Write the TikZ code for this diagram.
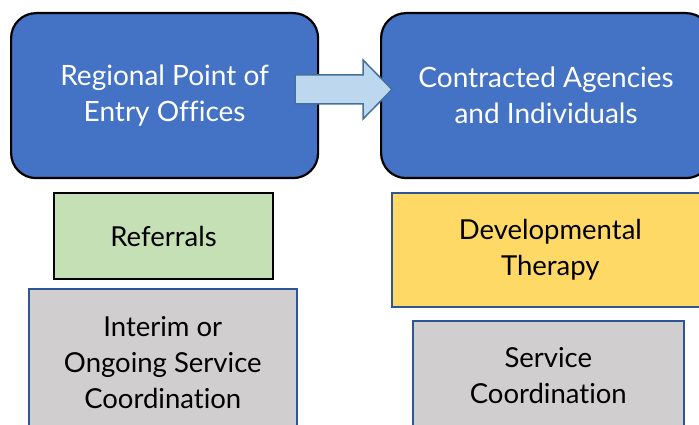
\documentclass[tikz,border=0pt]{standalone}
\usepackage{fontspec}
\setmainfont[Ligatures=NoCommon]{Lato}
\usepackage{xcolor}

\definecolor{hubblue}{HTML}{4472C4}
\definecolor{flowfill}{HTML}{BDD7EE}
\definecolor{flowline}{HTML}{41719C}
\definecolor{refgreen}{HTML}{C5E0B4}
\definecolor{svcgrey}{HTML}{D0CECE}
\definecolor{dtyellow}{HTML}{FFD966}
\definecolor{boxline}{HTML}{2F5597}

\tikzset{
  hub/.style={draw=black, line width=2.2pt, fill=hubblue, rounded corners=25pt,
    text=white, align=center, inner sep=0pt, anchor=north west,
    font=\fontsize{28}{36}\selectfont},
  task/.style={line width=1.6pt, align=center, inner sep=0pt, anchor=north west,
    font=\fontsize{27.5}{36}\selectfont},
  flow/.style={draw=flowline, fill=flowfill, line width=1.5pt, line join=miter},
}

\begin{document}
\begin{tikzpicture}[x=1pt,y=-1pt]
\useasboundingbox (0,0) rectangle (699,425);
\clip (0,0) rectangle (699,425);
% top row: the two offices
\draw (10,12) node [hub, minimum width=307pt, minimum height=165pt] (entry) {Regional Point of\\Entry Offices};
\draw (380,12) node [hub, minimum width=330pt, minimum height=165pt] (agencies) {Contracted Agencies\\and Individuals};
% block arrow between them
\draw[flow] (295,75) -- (363,75) -- (363,60) -- (392,89.5) -- (363,119) -- (363,104) -- (295,104) -- cycle;
% left column
\draw (53,192) node [task, draw=black, line width=2pt, fill=refgreen, minimum width=219pt, minimum height=86pt] (referrals) {Referrals};
\draw (28,288) node [task, draw=boxline, fill=svcgrey, minimum width=268pt, minimum height=148pt] (interim) {Interim or\\Ongoing Service\\Coordination};
% right column
\draw (391,192) node [task, draw=boxline, fill=dtyellow, minimum width=317pt, minimum height=114pt] (therapy) {Developmental\\Therapy};
\draw (412,320) node [task, draw=boxline, fill=svcgrey, minimum width=271pt, minimum height=110pt] (svccoord) {Service\\Coordination};
\end{tikzpicture}
\end{document}
